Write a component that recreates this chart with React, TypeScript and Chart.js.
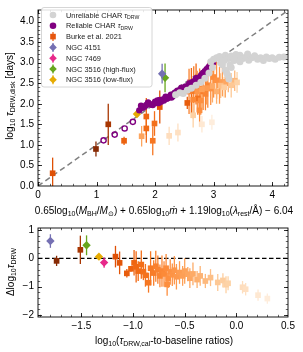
import React, { useEffect, useRef } from 'react';
import { Chart, registerables } from 'chart.js';
Chart.register(...registerables);

// ---------------- DATA ----------------
const unreliableX = [2.35, 2.42, 2.48, 2.55, 2.62, 2.70, 2.78, 2.85, 2.92, 2.98, 3.15, 3.20, 3.24, 3.26, 3.22, 3.30,
  2.95, 3.00, 3.05, 3.10, 3.15, 3.20, 3.25, 3.30, 3.35, 3.40, 3.45, 3.50, 3.55, 3.60, 3.65, 3.70, 3.75, 3.80, 3.85,
  3.90, 3.95, 4.00, 4.05, 4.12, 4.20, 3.38, 3.58, 3.12, 3.45, 3.28, 3.18];
const unreliableY = [2.22, 2.27, 2.25, 2.33, 2.38, 2.45, 2.52, 2.62, 2.75, 2.88, 2.95, 2.82, 2.70, 2.60, 2.76, 2.88,
  3.02, 3.08, 3.12, 3.15, 3.08, 3.18, 3.10, 3.16, 3.05, 3.12, 3.18, 3.10, 3.14, 3.06, 3.12, 3.17, 3.08, 3.12, 3.05,
  3.14, 3.10, 3.12, 3.08, 3.13, 3.14, 3.20, 3.21, 3.00, 3.02, 2.95, 3.05];

const reliableX = [1.73, 1.76, 1.79, 1.85, 1.90, 1.93, 1.96, 2.02, 2.06, 2.10, 2.15, 2.20, 2.25, 2.28, 2.32, 2.36, 2.40,
  2.44, 2.47, 2.50, 2.53, 2.56, 2.59, 2.62, 2.65, 2.68, 2.71, 2.74, 2.77, 2.80, 2.83, 2.86, 2.89, 2.92, 2.95, 2.97,
  2.99, 2.42, 2.55, 2.60, 2.66, 2.70, 2.75, 2.82, 2.88, 2.30, 2.22, 2.48, 2.93, 2.79, 2.12, 2.38,
  1.82, 1.88, 2.00, 2.08, 2.18, 2.27, 2.34, 2.45, 2.52, 2.58, 2.64, 2.73, 2.78, 2.85, 2.91, 2.96, 2.17, 2.04, 2.62, 2.69];
const reliableY = [1.84, 1.95, 1.90, 1.97, 2.00, 1.98, 1.97, 2.02, 2.02, 2.05, 2.08, 2.12, 2.18, 2.15, 2.22, 2.25, 2.28,
  2.30, 2.34, 2.36, 2.38, 2.42, 2.44, 2.47, 2.50, 2.54, 2.57, 2.60, 2.64, 2.68, 2.72, 2.76, 2.80, 2.85, 2.90, 2.95,
  3.00, 2.33, 2.37, 2.50, 2.47, 2.62, 2.58, 2.75, 2.84, 2.18, 2.14, 2.30, 2.92, 2.70, 2.10, 2.32,
  1.93, 2.03, 2.05, 2.09, 2.17, 2.22, 2.27, 2.39, 2.42, 2.48, 2.53, 2.63, 2.67, 2.79, 2.88, 2.93, 2.13, 2.08, 2.43, 2.58];

const reliableOpenX = [1.12, 1.31, 1.48, 1.62];
const reliableOpenY = [1.11, 1.25, 1.40, 1.56];

const burkePred = [0.99, 1.20, 0.25, 2.08, 2.55, 1.47, 1.85, 2.62, 1.85, 2.70, 1.99, 2.73, 1.96, 2.66, 2.82, 2.58,
  2.76, 2.86, 2.90, 2.65, 3.00, 2.76, 2.78, 3.05, 2.95, 2.72, 3.10, 2.88, 3.15, 2.80, 1.77, 3.20, 2.98, 3.05, 3.25,
  3.36, 3.12, 3.30, 3.18, 2.65, 3.40, 2.24, 2.39, 2.80, 2.97];
const burkeObs = [0.90, 1.50, 0.31, 1.92, 2.02, 1.10, 1.69, 2.32, 1.40, 2.48, 1.52, 2.13, 1.10, 2.31, 2.30, 2.30,
  2.36, 2.24, 2.45, 2.10, 2.65, 1.84, 2.08, 2.57, 2.37, 2.30, 2.45, 2.38, 2.53, 2.35, 1.21, 2.50, 2.43, 2.30, 2.63,
  2.56, 2.44, 2.45, 2.40, 1.72, 2.52, 1.22, 1.30, 1.50, 1.55];
const burkeErr = [0.18, 0.50, 0.38, 0.40, 0.15, 0.10, 0.45, 0.55, 0.35, 0.50, 0.30, 0.40, 0.35, 0.60, 0.45, 0.55,
  0.50, 0.40, 0.55, 0.45, 0.50, 0.40, 0.35, 0.45, 0.40, 0.50, 0.45, 0.40, 0.35, 0.45, 0.25, 0.35, 0.40, 0.30, 0.35,
  0.25, 0.30, 0.30, 0.25, 0.30, 0.25, 0.22, 0.22, 0.20, 0.18];
const burkeRatio = [-1.74, -1.51, -1.17, -1.13, -1.06, -1.02, -0.99, -0.97, -0.95, -0.92, -0.90, -0.88, -0.85, -0.83,
  -0.80, -0.78, -0.76, -0.74, -0.72, -0.70, -0.68, -0.67, -0.66, -0.64, -0.62, -0.60, -0.58, -0.55, -0.52, -0.50,
  -0.47, -0.45, -0.42, -0.38, -0.35, -0.30, -0.25, -0.18, -0.13, -0.10, -0.08, 0.06, 0.09, 0.21, 0.30];

const ngcNames = ['NGC 4151', 'NGC 7469', 'NGC 3516 (high-flux)', 'NGC 3516 (low-flux)'];
const ngcPred = [2.12, 2.56, 2.17, 1.69];
const ngcObs = [2.73, 2.41, 2.63, 1.75];
const ngcErr = [0.24, 0.18, 0.35, 0.08];
const ngcRatio = [-1.80, -1.28, -1.45, -1.33];
const ngcColors = ['#7570b3', '#e7298a', '#66a61e', '#e6ab02'];

const topXTicks = [0, 1, 2, 3, 4];
const topXLabels = ['0', '1', '2', '3', '4'];
const topYTicks = [0, 0.5, 1, 1.5, 2, 2.5, 3, 3.5, 4];
const topYLabels = ['0.0', '0.5', '1.0', '1.5', '2.0', '2.5', '3.0', '3.5', '4.0'];
const botXTicks = [-1.5, -1.0, -0.5, 0.0, 0.5];
const botXLabels = ['\u22121.5', '\u22121.0', '\u22120.5', '0.0', '0.5'];
const botYTicks = [-2, -1, 0, 1];
const botYLabels = ['\u22122', '\u22121', '0', '1'];

// ---------------- STYLE HELPERS ----------------
const FONT = "'Liberation Sans', Arial, sans-serif";
const ORANGES = ['#fff5eb', '#fee6ce', '#fdd0a2', '#fdae6b', '#fd8d3c', '#f16913', '#d94801', '#a63603', '#7f2704'];
function hex(c: string) { return [1, 3, 5].map(i => parseInt(c.slice(i, i + 2), 16)); }
function orangeFor(r: number) {
  let t = 1 - (r + 1.8) / 2.25;
  t = Math.max(0, Math.min(1, t));
  const p = t * (ORANGES.length - 1);
  const i = Math.min(ORANGES.length - 2, Math.floor(p));
  const f = p - i;
  const a = hex(ORANGES[i]), b = hex(ORANGES[i + 1]);
  const m = a.map((v, k) => Math.round(v + (b[k] - v) * f));
  return `rgb(${m[0]},${m[1]},${m[2]})`;
}

type Seg = { t: string; sub?: boolean; it?: boolean };
function segFont(s: Seg, size: number) {
  return `${s.it ? 'italic ' : ''}${s.sub ? size * 0.7 : size}px ${FONT}`;
}
function richWidth(ctx: CanvasRenderingContext2D, segs: Seg[], size: number) {
  let w = 0;
  for (const s of segs) { ctx.font = segFont(s, size); w += ctx.measureText(s.t).width; }
  return w;
}
function drawRich(ctx: CanvasRenderingContext2D, segs: Seg[], x: number, y: number, size: number, align: 'left' | 'center') {
  const w = richWidth(ctx, segs, size);
  let cx = align === 'center' ? x - w / 2 : x;
  ctx.textAlign = 'left';
  ctx.textBaseline = 'alphabetic';
  for (const s of segs) {
    ctx.font = segFont(s, size);
    ctx.fillText(s.t, cx, s.sub ? y + size * 0.22 : y);
    cx += ctx.measureText(s.t).width;
  }
}

const errPlugin = {
  id: 'errbars',
  beforeDatasetDraw(chart: any, args: any) {
    const ds: any = chart.data.datasets[args.index];
    if (!ds.yErr) return;
    const ctx: CanvasRenderingContext2D = chart.ctx;
    const xs = chart.scales.x, ys = chart.scales.y, a = chart.chartArea;
    ctx.save();
    ctx.beginPath();
    ctx.rect(a.left, a.top, a.right - a.left, a.bottom - a.top);
    ctx.clip();
    ctx.lineWidth = 1.3;
    ds.data.forEach((p: any, i: number) => {
      const c = Array.isArray(ds.errColor) ? ds.errColor[i] : ds.errColor;
      const e = ds.yErr[i];
      if (!e) return;
      ctx.strokeStyle = c;
      const px = xs.getPixelForValue(p.x);
      ctx.beginPath();
      ctx.moveTo(px, ys.getPixelForValue(p.y + e));
      ctx.lineTo(px, ys.getPixelForValue(p.y - e));
      ctx.stroke();
    });
    ctx.restore();
  },
};

function range(a: number, b: number, s: number) {
  const out: number[] = [];
  for (let v = a; v <= b + 1e-9; v += s) out.push(Math.round(v * 1000) / 1000);
  return out;
}

function framePlugin(cfg: {
  xMajor: number[]; xMinor: number[]; yMajor: number[]; yMinor: number[];
  refLine: 'diag' | 'zero';
  extra: (ctx: CanvasRenderingContext2D, chart: any) => void;
}) {
  return {
    id: 'frame',
    beforeDatasetsDraw(chart: any) {
      const ctx: CanvasRenderingContext2D = chart.ctx;
      const xs = chart.scales.x, ys = chart.scales.y, a = chart.chartArea;
      ctx.save();
      ctx.beginPath();
      ctx.rect(a.left, a.top, a.right - a.left, a.bottom - a.top);
      ctx.clip();
      if (cfg.refLine === 'diag') {
        ctx.strokeStyle = '#808080';
        ctx.lineWidth = 1.5;
        ctx.setLineDash([5.5, 3.5]);
        ctx.beginPath();
        ctx.moveTo(xs.getPixelForValue(0), ys.getPixelForValue(0));
        ctx.lineTo(xs.getPixelForValue(4.5), ys.getPixelForValue(4.5));
        ctx.stroke();
      } else {
        ctx.strokeStyle = '#000';
        ctx.lineWidth = 1.2;
        ctx.setLineDash([4.5, 2.5]);
        ctx.beginPath();
        ctx.moveTo(a.left, ys.getPixelForValue(0));
        ctx.lineTo(a.right, ys.getPixelForValue(0));
        ctx.stroke();
      }
      ctx.restore();
    },
    afterDraw(chart: any) {
      const ctx: CanvasRenderingContext2D = chart.ctx;
      const xs = chart.scales.x, ys = chart.scales.y, a = chart.chartArea;
      ctx.save();
      ctx.strokeStyle = '#000';
      ctx.lineWidth = 0.9;
      ctx.strokeRect(a.left, a.top, a.right - a.left, a.bottom - a.top);
      const tick = (vals: number[], len: number, horiz: boolean) => {
        for (const v of vals) {
          if (horiz) {
            const px = Math.round(xs.getPixelForValue(v)) + 0.5;
            if (px < a.left || px > a.right) continue;
            ctx.beginPath();
            ctx.moveTo(px, a.bottom); ctx.lineTo(px, a.bottom - len);
            ctx.moveTo(px, a.top); ctx.lineTo(px, a.top + len);
            ctx.stroke();
          } else {
            const py = Math.round(ys.getPixelForValue(v)) + 0.5;
            if (py < a.top || py > a.bottom) continue;
            ctx.beginPath();
            ctx.moveTo(a.left, py); ctx.lineTo(a.left + len, py);
            ctx.moveTo(a.right, py); ctx.lineTo(a.right - len, py);
            ctx.stroke();
          }
        }
      };
      ctx.lineWidth = 0.8;
      tick(cfg.xMajor, 4, true);
      tick(cfg.yMajor, 4, false);
      ctx.lineWidth = 0.6;
      tick(cfg.xMinor, 2.2, true);
      tick(cfg.yMinor, 2.2, false);
      ctx.fillStyle = '#000';
      cfg.extra(ctx, chart);
      ctx.restore();
    },
  };
}

function drawMarker(ctx: CanvasRenderingContext2D, kind: string, x: number, y: number, color: string) {
  ctx.fillStyle = color;
  ctx.strokeStyle = color;
  ctx.lineWidth = 1.2;
  if (kind === 'circle') {
    ctx.beginPath(); ctx.arc(x, y, 3.3, 0, Math.PI * 2); ctx.fill();
  } else if (kind === 'square') {
    ctx.beginPath(); ctx.moveTo(x, y - 4.5); ctx.lineTo(x, y + 4.5); ctx.stroke();
    ctx.fillRect(x - 2.8, y - 2.8, 5.6, 5.6);
  } else {
    ctx.beginPath(); ctx.moveTo(x, y - 4.5); ctx.lineTo(x, y + 4.5); ctx.stroke();
    ctx.beginPath();
    ctx.moveTo(x, y - 3.8); ctx.lineTo(x + 3.8, y); ctx.lineTo(x, y + 3.8); ctx.lineTo(x - 3.8, y);
    ctx.closePath(); ctx.fill();
  }
}

function drawLegend(ctx: CanvasRenderingContext2D) {
  const x0 = 41.5, y0 = 7.5, w = 110.5, h = 79.5, r = 2.5;
  ctx.save();
  ctx.beginPath();
  ctx.moveTo(x0 + r, y0);
  ctx.lineTo(x0 + w - r, y0); ctx.quadraticCurveTo(x0 + w, y0, x0 + w, y0 + r);
  ctx.lineTo(x0 + w, y0 + h - r); ctx.quadraticCurveTo(x0 + w, y0 + h, x0 + w - r, y0 + h);
  ctx.lineTo(x0 + r, y0 + h); ctx.quadraticCurveTo(x0, y0 + h, x0, y0 + h - r);
  ctx.lineTo(x0, y0 + r); ctx.quadraticCurveTo(x0, y0, x0 + r, y0);
  ctx.closePath();
  ctx.fillStyle = 'rgba(255,255,255,0.85)';
  ctx.fill();
  ctx.strokeStyle = '#cccccc';
  ctx.lineWidth = 0.8;
  ctx.stroke();
  const entries: { kind: string; color: string; segs: Seg[] }[] = [
    { kind: 'circle', color: '#d3d3d3', segs: [{ t: 'Unreliable CHAR ' }, { t: '\u03c4', it: true }, { t: 'DRW', sub: true }] },
    { kind: 'circle', color: '#800080', segs: [{ t: 'Reliable CHAR ' }, { t: '\u03c4', it: true }, { t: 'DRW', sub: true }] },
    { kind: 'square', color: '#e6550d', segs: [{ t: 'Burke et al. 2021' }] },
    ...ngcNames.map((n, i) => ({ kind: 'diamond', color: ngcColors[i], segs: [{ t: n }] })),
  ];
  entries.forEach((e, i) => {
    const y = 15 + i * 10.8;
    drawMarker(ctx, e.kind, 53, y, e.color);
    ctx.fillStyle = '#222';
    drawRich(ctx, e.segs, 66, y + 2.6, 7.4, 'left');
  });
  ctx.restore();
}

function scaleCfg(min: number, max: number, ticks: number[], labels: string[], isX: boolean, fitSize: number) {
  return {
    type: 'linear',
    min, max,
    grid: { display: false, drawTicks: false },
    border: { display: false },
    ticks: {
      autoSkip: false, maxRotation: 0, padding: isX ? 3 : 4, color: '#000',
      font: { size: 10, family: FONT },
      callback: (_v: any, i: number) => labels[i],
    },
    afterBuildTicks: (s: any) => { s.ticks = ticks.map(v => ({ value: v })); },
    afterFit: (s: any) => { if (isX) s.height = fitSize; else s.width = fitSize; },
  };
}

function topConfig(): any {
  const burkeColors = burkeRatio.map(orangeFor);
  const datasets: any[] = [
    { data: unreliableX.map((x, i) => ({ x, y: unreliableY[i] })), backgroundColor: '#d3d3d3', borderWidth: 0, pointRadius: 3.5 },
    { data: reliableX.map((x, i) => ({ x, y: reliableY[i] })), backgroundColor: '#800080', borderWidth: 0, pointRadius: 3.2 },
    { data: reliableOpenX.map((x, i) => ({ x, y: reliableOpenY[i] })), backgroundColor: 'rgba(255,255,255,0)', borderColor: '#800080', borderWidth: 1.4, pointRadius: 2.6 },
    { data: burkePred.map((x, i) => ({ x, y: burkeObs[i] })), backgroundColor: burkeColors, borderWidth: 0, pointStyle: 'rect', pointRadius: 4, yErr: burkeErr, errColor: burkeColors },
    ...ngcNames.map((n, i) => ({ label: n, data: [{ x: ngcPred[i], y: ngcObs[i] }], backgroundColor: ngcColors[i], borderWidth: 0, pointStyle: 'rectRot', pointRadius: 4.2, yErr: [ngcErr[i]], errColor: ngcColors[i] })),
  ];
  return {
    type: 'scatter',
    data: { datasets },
    options: {
      responsive: false, animation: false, devicePixelRatio: 1, events: [],
      layout: { padding: { left: 0, right: 15, top: 5, bottom: 0 } },
      plugins: { legend: { display: false }, tooltip: { enabled: false } },
      scales: {
        x: scaleCfg(0, 4.27, topXTicks, topXLabels, true, 32),
        y: scaleCfg(0, 4.28, topYTicks, topYLabels, false, 38),
      },
    },
    plugins: [errPlugin, framePlugin({
      xMajor: topXTicks, xMinor: range(0, 4.2, 0.2), yMajor: topYTicks, yMinor: range(0, 4.2, 0.1),
      refLine: 'diag',
      extra: (ctx) => {
        drawLegend(ctx);
        ctx.fillStyle = '#000';
        drawRich(ctx, [
          { t: '0.65log' }, { t: '10', sub: true }, { t: '(' }, { t: 'M', it: true }, { t: 'BH', sub: true }, { t: '/' },
          { t: 'M', it: true }, { t: '\u2299', sub: true }, { t: ') + 0.65log' }, { t: '10', sub: true }, { t: '\u1e41', it: true },
          { t: ' + 1.19log' }, { t: '10', sub: true }, { t: '(' }, { t: '\u03bb', it: true }, { t: 'rest', sub: true },
          { t: '/\u00c5) \u2212 6.04' },
        ], 164, 213.5, 10, 'center');
        ctx.save();
        ctx.translate(13, 96);
        ctx.rotate(-Math.PI / 2);
        drawRich(ctx, [{ t: 'log' }, { t: '10', sub: true }, { t: ' ' }, { t: '\u03c4', it: true }, { t: 'DRW,disk', sub: true }, { t: ' [days]' }], 0, 0, 10, 'center');
        ctx.restore();
      },
    })],
  };
}

function botConfig(): any {
  const burkeColors = burkeRatio.map(orangeFor);
  const datasets: any[] = [
    { data: burkeRatio.map((x, i) => ({ x, y: burkeObs[i] - burkePred[i] })), backgroundColor: burkeColors, borderWidth: 0, pointStyle: 'rect', pointRadius: 4, yErr: burkeErr, errColor: burkeColors },
    ...ngcNames.map((n, i) => ({ label: n, data: [{ x: ngcRatio[i], y: ngcObs[i] - ngcPred[i] }], backgroundColor: ngcColors[i], borderWidth: 0, pointStyle: 'rectRot', pointRadius: 4.2, yErr: [ngcErr[i]], errColor: ngcColors[i] })),
  ];
  return {
    type: 'scatter',
    data: { datasets },
    options: {
      responsive: false, animation: false, devicePixelRatio: 1, events: [],
      layout: { padding: { left: 0, right: 15, top: 8, bottom: 0 } },
      plugins: { legend: { display: false }, tooltip: { enabled: false } },
      scales: {
        x: scaleCfg(-1.92, 0.5, botXTicks, botXLabels, true, 35),
        y: scaleCfg(-2.07, 1.07, botYTicks, botYLabels, false, 38),
      },
    },
    plugins: [errPlugin, framePlugin({
      xMajor: botXTicks, xMinor: range(-1.9, 0.5, 0.1), yMajor: botYTicks, yMinor: range(-2, 1, 0.2),
      refLine: 'zero',
      extra: (ctx) => {
        ctx.fillStyle = '#000';
        drawRich(ctx, [{ t: 'log' }, { t: '10', sub: true }, { t: '(' }, { t: '\u03c4', it: true }, { t: 'DRW,cal', sub: true }, { t: '-to-baseline ratios)' }], 164, 125.5, 10, 'center');
        ctx.save();
        ctx.translate(14, 54);
        ctx.rotate(-Math.PI / 2);
        drawRich(ctx, [{ t: '\u0394log' }, { t: '10', sub: true }, { t: '\u03c4', it: true }, { t: 'DRW', sub: true }], 0, 0, 10, 'center');
        ctx.restore();
      },
    })],
  };
}

export default function App() {
  const topRef = useRef<HTMLCanvasElement>(null);
  const botRef = useRef<HTMLCanvasElement>(null);
  useEffect(() => {
    const c1 = new Chart(topRef.current as HTMLCanvasElement, topConfig());
    const c2 = new Chart(botRef.current as HTMLCanvasElement, botConfig());
    return () => { c1.destroy(); c2.destroy(); };
  }, []);
  return (
    <div style={{ position: 'fixed', left: 0, top: 0, width: 303, height: 352, background: '#fff' }}>
      <canvas ref={topRef} width={303} height={218} style={{ position: 'absolute', left: 0, top: 0, width: 303, height: 218 }} />
      <canvas ref={botRef} width={303} height={134} style={{ position: 'absolute', left: 0, top: 218, width: 303, height: 134 }} />
    </div>
  );
}
